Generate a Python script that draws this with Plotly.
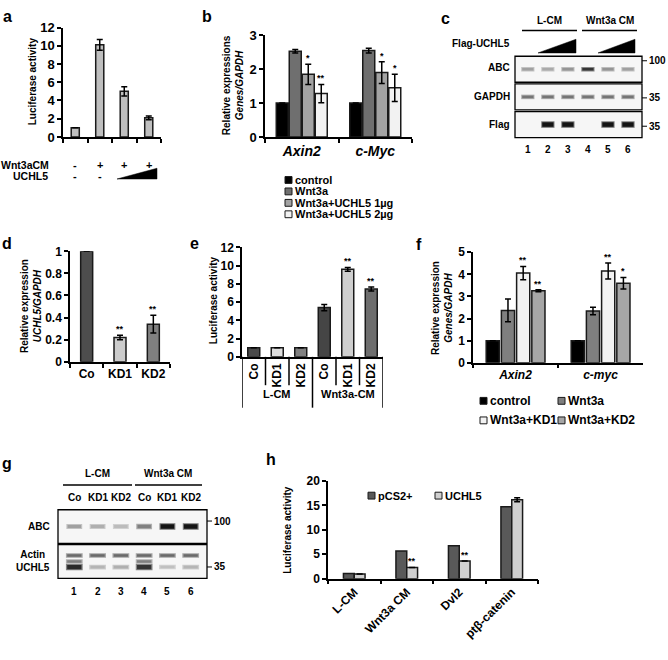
import plotly.graph_objects as go

W, H = 668, 660
FONT = "Liberation Sans, Arial, sans-serif"


def PX(x):
    return x / W


def PY(y):
    return 1 - y / H


# ------------------------------------------------------------------ data
# panel a
a_conditions = ["Control", "Wnt3aCM", "Wnt3aCM+UCHL5 low", "Wnt3aCM+UCHL5 high"]
a_luciferase = [1.0, 10.1, 5.0, 2.1]
a_error = [None, 0.6, 0.5, 0.2]
a_wnt3a_row = ["-", "+", "+", "+"]
a_uchl5_row = ["-", "-", "", ""]
a_yticks = [0, 2, 4, 6, 8, 10, 12]

# panel b
b_genes = ["Axin2", "c-Myc"]
b_series = ["control", "Wnt3a", "Wnt3a+UCHL5 1µg", "Wnt3a+UCHL5 2µg"]
b_control = [1.0, 1.0]
b_wnt3a = [2.53, 2.55]
b_uchl5_1ug = [1.85, 1.9]
b_uchl5_2ug = [1.28, 1.45]
b_err_control = [None, None]
b_err_wnt3a = [0.05, 0.07]
b_err_1ug = [0.3, 0.32]
b_err_2ug = [0.27, 0.4]
b_stars = [["", ""], ["", ""], ["*", "*"], ["**", "*"]]
b_yticks = [0, 1, 2, 3]

# panel c (western blot band intensities, 0..1)
c_lanes = [1, 2, 3, 4, 5, 6]
c_groups = ["L-CM", "Wnt3a CM"]
c_rows = ["ABC", "GAPDH", "Flag"]
c_mw = ["100", "35", "35"]
c_abc = [0.35, 0.3, 0.4, 0.85, 0.4, 0.35]
c_gapdh = [0.55, 0.55, 0.55, 0.55, 0.55, 0.55]
c_flag = [0.0, 1.0, 1.0, 0.0, 1.0, 1.0]

# panel d
d_cats = ["Co", "KD1", "KD2"]
d_values = [1.0, 0.22, 0.34]
d_error = [None, 0.02, 0.08]
d_stars = ["", "**", "**"]
d_yticks = [0, 0.2, 0.4, 0.6, 0.8, 1]
d_yticktext = ["0", "0.2", "0.4", "0.6", "0.8", "1"]

# panel e
e_labels = ["Co", "KD1", "KD2", "Co", "KD1", "KD2"]
e_groups = ["L-CM", "Wnt3a-CM"]
e_values = [1.0, 1.0, 1.0, 5.4, 9.6, 7.45]
e_error = [None, None, None, 0.35, 0.2, 0.22]
e_stars = ["", "", "", "", "**", "**"]
e_yticks = [0, 2, 4, 6, 8, 10, 12]

# panel f
f_genes = ["Axin2", "c-myc"]
f_series = ["control", "Wnt3a", "Wnt3a+KD1", "Wnt3a+KD2"]
f_control = [1.0, 1.0]
f_wnt3a = [2.37, 2.34]
f_kd1 = [4.06, 4.15]
f_kd2 = [3.26, 3.6]
f_err_control = [None, None]
f_err_wnt3a = [0.52, 0.17]
f_err_kd1 = [0.3, 0.36]
f_err_kd2 = [0.05, 0.26]
f_stars = [["", ""], ["", ""], ["**", "**"], ["**", "*"]]
f_yticks = [0, 1, 2, 3, 4, 5]

# panel g (western blot band intensities)
g_lane_labels = ["Co", "KD1", "KD2", "Co", "KD1", "KD2"]
g_groups = ["L-CM", "Wnt3a CM"]
g_abc = [0.35, 0.28, 0.22, 0.5, 1.0, 1.0]
g_actin = [0.6, 0.6, 0.6, 0.6, 0.6, 0.6]
g_mid = [0.5, 0.0, 0.0, 0.5, 0.0, 0.0]
g_uchl5 = [0.9, 0.25, 0.28, 0.85, 0.2, 0.25]

# panel h
h_cats = ["L-CM", "Wnt3a CM", "Dvl2", "ptβ-catenin"]
h_series = ["pCS2+", "UCHL5"]
h_pcs2 = [1.05, 5.65, 6.75, 14.75]
h_uchl5 = [0.95, 2.3, 3.6, 16.15]
h_err_uchl5 = [None, None, None, 0.4]
h_stars = ["", "**", "**", ""]
h_yticks = [0, 5, 10, 15, 20]

# ------------------------------------------------------------------ styles
OUT = "#1a1a1a"
a_color = "#bfbfbf"
b_colors = ["#000000", "#6f6f6f", "#a3a3a3", "#f2f2f2"]
d_colors = ["#4d4d4d", "#cccccc", "#808080"]
e_colors = ["#4a4a4a", "#dedede", "#808080", "#454545", "#cfcfcf", "#6e6e6e"]
f_colors = ["#000000", "#7f7f7f", "#f2f2f2", "#a6a6a6"]
h_colors = ["#595959", "#d0d0d0"]

fig = go.Figure()
annotations = []
shapes = []


def A(text, x, y, size=11, xanchor="center", yanchor="middle", xref="paper",
      yref="paper", angle=0, italic=False):
    return dict(text=text, x=PX(x) if xref == "paper" else x,
                y=PY(y) if yref == "paper" else y, xref=xref, yref=yref,
                showarrow=False, textangle=angle, xanchor=xanchor,
                yanchor=yanchor,
                font=dict(size=size, family=FONT, color="black", weight="bold",
                          style="italic" if italic else "normal"))


def bar(x, y, err, color, xa, ya, width, offset=None):
    kw = {}
    if err is not None:
        kw["error_y"] = dict(type="data", array=err, visible=True,
                             color="black", thickness=1.5, width=3)
    return go.Bar(x=x, y=y, width=width, offset=offset, xaxis=xa, yaxis=ya,
                  marker=dict(color=color, line=dict(color=OUT, width=1.5)),
                  showlegend=False, hoverinfo="skip", **kw)


def star_ann(text, x, y, xa, ya, size=9):
    d = A(text, x, y, size=size, yanchor="bottom", xref=xa, yref=ya)
    d["yshift"] = -1
    return d


def legend_item(xs, y, color, text, size=11):
    shapes.append(dict(type="rect", xref="paper", yref="paper",
                       x0=PX(xs), x1=PX(xs + 7), y0=PY(y + 3.5), y1=PY(y - 3.5),
                       fillcolor=color, line=dict(color=OUT, width=1)))
    annotations.append(A(text, xs + 7.5, y, size=size, xanchor="left"))


def gray(v):
    g = int(round(235 - 215 * v))
    return f"rgb({g},{g},{g})"


def band(lane, row, v, xa, ya, half=0.34, thick=3.0):
    if v <= 0:
        return
    fig.add_trace(go.Scatter(x=[lane - half, lane + half], y=[row, row],
                             mode="lines", xaxis=xa, yaxis=ya,
                             line=dict(color=gray(v * 0.55), width=thick + 2),
                             showlegend=False, hoverinfo="skip"))
    fig.add_trace(go.Scatter(x=[lane - half * 0.85, lane + half * 0.85], y=[row, row],
                             mode="lines", xaxis=xa, yaxis=ya,
                             line=dict(color=gray(v), width=thick),
                             showlegend=False, hoverinfo="skip"))


# ------------------------------------------------------------------ panel a
fig.add_trace(bar(a_conditions, a_luciferase, a_error, a_color, "x", "y", 0.33))
for i, s in enumerate(a_wnt3a_row):
    annotations.append(A(s, i, 162, size=11, xref="x"))
for i, s in enumerate(a_uchl5_row):
    if s:
        annotations.append(A(s, i, 173, size=11, xref="x"))
annotations.append(A("Wnt3aCM", -1, 162, size=10.5, xanchor="left"))
annotations.append(A("UCHL5", 11, 173, size=10.5, xanchor="left"))
shapes.append(dict(type="path", xref="paper", yref="paper", fillcolor="black",
                   line=dict(color="black", width=0.5),
                   path=f"M {PX(117)},{PY(176)} L {PX(157)},{PY(176)} L {PX(157)},{PY(165)} Z"))
annotations.append(A("Luciferase activity", 32, 76, size=10, angle=-90))

# ------------------------------------------------------------------ panel b
b_vals = [b_control, b_wnt3a, b_uchl5_1ug, b_uchl5_2ug]
b_errs = [b_err_control, b_err_wnt3a, b_err_1ug, b_err_2ug]
b_w, b_step, b_off0 = 0.163, 0.177, -0.347
for k in range(len(b_series)):
    off = b_off0 + b_step * k
    tr = bar(b_genes, b_vals[k], b_errs[k], b_colors[k], "x2", "y2", b_w, off)
    tr.name = b_series[k]
    fig.add_trace(tr)
    for gi in range(len(b_genes)):
        if b_stars[k][gi]:
            annotations.append(star_ann(b_stars[k][gi], gi + off + b_w / 2,
                                        b_vals[k][gi] + (b_errs[k][gi] or 0), "x2", "y2"))
annotations.append(A("Relative expressions<br><i>Genes/GAPDH</i>", 233, 80,
                     size=10, angle=-90))
for k, name in enumerate(b_series):
    legend_item(285, 177 + 11.7 * k, b_colors[k], name, size=11)

# ------------------------------------------------------------------ panel c (blot)
c_intens = [c_abc, c_gapdh, c_flag]
c_thick = [2.5, 2.5, 4.5]
for r, vals in enumerate(c_intens):
    shapes.append(dict(type="rect", xref="x7 domain", yref="y7", x0=0, x1=1,
                       y0=r - 0.47, y1=r + 0.47, layer="below",
                       fillcolor="#f6f6f6", line=dict(color="black", width=1.3)))
    for lane, v in zip(c_lanes, vals):
        band(lane, r, v, "x7", "y7", half=0.33, thick=c_thick[r])
    annotations.append(A(c_rows[r], 512, [62, 92, 120][r], size=10, xanchor="right"))
    ymw = [55, 93, 122][r]
    shapes.append(dict(type="line", xref="paper", yref="paper", x0=PX(642), x1=PX(647),
                       y0=PY(ymw), y1=PY(ymw), line=dict(color="black", width=1)))
    annotations.append(A(c_mw[r], 647, ymw, size=10, xanchor="left"))
for lane in c_lanes:
    annotations.append(A(str(lane), lane, 146, size=10, xref="x7"))
for gi, (gname, x0, x1) in enumerate(zip(c_groups, [522, 582], [577, 637])):
    shapes.append(dict(type="line", xref="paper", yref="paper", x0=PX(x0), x1=PX(x1),
                       y0=PY(24), y1=PY(24), line=dict(color="black", width=1.5)))
    annotations.append(A(gname, (x0 + x1) / 2, 14, size=10))
    wx0, wx1 = [538, 598][gi], [576, 635][gi]
    shapes.append(dict(type="path", xref="paper", yref="paper", fillcolor="black",
                       line=dict(color="black", width=0.5),
                       path=f"M {PX(wx0)},{PY(47)} L {PX(wx1)},{PY(47)} L {PX(wx1)},{PY(33)} Z"))
annotations.append(A("Flag-UCHL5", 512, 37, size=10, xanchor="right"))

# ------------------------------------------------------------------ panel d
fig.add_trace(bar(d_cats, d_values, d_error, d_colors, "x3", "y3", 0.36))
for i, s in enumerate(d_stars):
    if s:
        annotations.append(star_ann(s, i, d_values[i] + (d_error[i] or 0), "x3", "y3"))
annotations.append(A("Relative expression<br><i>UCHL5/GAPDH</i>", 31, 306,
                     size=10, angle=-90))

# ------------------------------------------------------------------ panel e
e_pos = list(range(len(e_values)))
fig.add_trace(bar(e_pos, e_values, e_error, e_colors, "x4", "y4", 0.51))
for i, s in enumerate(e_stars):
    if s:
        annotations.append(star_ann(s, i, e_values[i] + (e_error[i] or 0), "x4", "y4"))
gsize = len(e_values) // len(e_groups)
for i in range(len(e_values) + 1):
    b = i - 0.5
    long_line = (i % gsize == 0)
    shapes.append(dict(type="line", xref="x4", yref="paper", x0=b, x1=b,
                       y0=PY(358), y1=PY(410 if long_line else 387),
                       line=dict(color="black", width=1.5)))
for gi, gname in enumerate(e_groups):
    annotations.append(A(gname, gi * gsize + (gsize - 1) / 2, 396, size=11, xref="x4"))
annotations.append(A("Luciferase activity", 213, 300, size=10, angle=-90))

# ------------------------------------------------------------------ panel f
f_vals = [f_control, f_wnt3a, f_kd1, f_kd2]
f_errs = [f_err_control, f_err_wnt3a, f_err_kd1, f_err_kd2]
f_w, f_step, f_off0 = 0.155, 0.179, -0.345
for k in range(len(f_series)):
    off = f_off0 + f_step * k
    tr = bar(f_genes, f_vals[k], f_errs[k], f_colors[k], "x5", "y5", f_w, off)
    tr.name = f_series[k]
    fig.add_trace(tr)
    for gi in range(len(f_genes)):
        if f_stars[k][gi]:
            annotations.append(star_ann(f_stars[k][gi], gi + off + f_w / 2,
                                        f_vals[k][gi] + (f_errs[k][gi] or 0), "x5", "y5"))
annotations.append(A("Relative expression<br><i>Genes/GAPDH</i>", 442, 308,
                     size=10, angle=-90))
f_leg_pos = [(480, 403), (558, 403), (480, 423), (558, 423)]
for k, name in enumerate(f_series):
    legend_item(f_leg_pos[k][0], f_leg_pos[k][1], f_colors[k], name, size=12)

# ------------------------------------------------------------------ panel g (blot)
g_box_rows = [0, 1]
for r in g_box_rows:
    shapes.append(dict(type="rect", xref="x8 domain", yref="y8", x0=0, x1=1,
                       y0=r - 0.48, y1=r + 0.48, layer="below",
                       fillcolor="#f6f6f6", line=dict(color="black", width=1.3)))
for lane, v in zip(c_lanes, g_abc):
    band(lane, 0, v, "x8", "y8", half=0.34, thick=2.5 + 2 * v)
for lane, v in zip(c_lanes, g_actin):
    band(lane, 1 - 0.17, v, "x8", "y8", half=0.36, thick=2.5)
for lane, v in zip(c_lanes, g_mid):
    band(lane, 1.0, v, "x8", "y8", half=0.36, thick=2.5)
for lane, v in zip(c_lanes, g_uchl5):
    band(lane, 1 + 0.16, v, "x8", "y8", half=0.36, thick=2 + 2.5 * v)
for lane, lab in zip(c_lanes, g_lane_labels):
    annotations.append(A(lab, lane, 502, size=10, xref="x8"))
    annotations.append(A(str(lane), lane, 598, size=10, xref="x8"))
for gname, x0, x1 in zip(g_groups, [63, 135], [132, 202]):
    shapes.append(dict(type="line", xref="paper", yref="paper", x0=PX(x0), x1=PX(x1),
                       y0=PY(489), y1=PY(489), line=dict(color="black", width=1.5)))
    annotations.append(A(gname, (x0 + x1) / 2, 477, size=10))
annotations.append(A("ABC", 52, 532, size=10, xanchor="right"))
annotations.append(A("Actin<br>UCHL5", 52, 567, size=10, xanchor="right"))
for txt, ymw in [("100", 526), ("35", 573)]:
    shapes.append(dict(type="line", xref="paper", yref="paper", x0=PX(207), x1=PX(212),
                       y0=PY(ymw), y1=PY(ymw), line=dict(color="black", width=1)))
    annotations.append(A(txt, 212, ymw, size=10, xanchor="left"))

# ------------------------------------------------------------------ panel h
h_w = 0.206
fig.add_trace(bar(h_cats, h_pcs2, None, h_colors[0], "x6", "y6", h_w, -h_w))
fig.add_trace(bar(h_cats, h_uchl5, h_err_uchl5, h_colors[1], "x6", "y6", h_w, 0))
for i, s in enumerate(h_stars):
    if s:
        annotations.append(star_ann(s, i + h_w / 2, h_uchl5[i] + (h_err_uchl5[i] or 0),
                                    "x6", "y6"))
annotations.append(A("Luciferase activity", 288, 535, size=10, angle=-90))
legend_item(368, 500, h_colors[0], h_series[0], size=11)
legend_item(435, 500, h_colors[1], h_series[1], size=11)

# ------------------------------------------------------------------ panel letters
for letter, x, y in [("a", 7, 10), ("b", 207, 10), ("c", 445, 12), ("d", 7, 242),
                     ("e", 194, 242), ("f", 419, 243), ("g", 7, 467), ("h", 271, 463)]:
    annotations.append(A(letter, x, y, size=16))


# ------------------------------------------------------------------ axes
def xax(x0, x1, anchor, **kw):
    d = dict(domain=[PX(x0), PX(x1)], anchor=anchor, showgrid=False, zeroline=False,
             showline=True, linecolor="black", linewidth=1.5, ticks="outside",
             ticklen=4, tickwidth=1.5, tickcolor="black", fixedrange=True,
             tickfont=dict(size=12, family=FONT, color="black", weight="bold"))
    d.update(kw)
    return d


def yax(y0, y1, anchor, **kw):
    d = dict(domain=[PY(y1), PY(y0)], anchor=anchor, showgrid=False, zeroline=False,
             showline=True, linecolor="black", linewidth=1.5, ticks="outside",
             ticklen=4, tickwidth=1.5, tickcolor="black", fixedrange=True,
             tickfont=dict(size=12, family=FONT, color="black", weight="bold"))
    d.update(kw)
    return d


def hidden(x0, x1, anchor, rng, vertical=False):
    if vertical:
        dom = [PY(x1), PY(x0)]
    else:
        dom = [PX(x0), PX(x1)]
    return dict(domain=dom, anchor=anchor, range=rng, visible=False, fixedrange=True)


fig.update_layout(
    width=W, height=H, margin=dict(l=0, r=0, t=0, b=0),
    paper_bgcolor="white", plot_bgcolor="rgba(0,0,0,0)",
    showlegend=False, barmode="overlay",
    font=dict(family=FONT, color="black", size=11, weight="bold"),
    xaxis=xax(63, 161, "y", type="category", tickson="boundaries", showticklabels=False),
    yaxis=yax(21, 133, "x", range=[0, 12], tickvals=a_yticks,
              tickfont=dict(size=13, family=FONT, color="black", weight="bold")),
    xaxis2=xax(265, 412, "y2", type="category", tickson="boundaries", tickangle=0,
               tickfont=dict(size=14, family=FONT, color="black", weight="bold",
                             style="italic")),
    yaxis2=yax(29, 133, "x2", range=[0, 3], tickvals=b_yticks,
               tickfont=dict(size=13, family=FONT, color="black", weight="bold")),
    xaxis3=xax(70, 170, "y3", type="category", tickson="boundaries", tickangle=0),
    yaxis3=yax(250, 363, "x3", range=[0, 1], tickvals=d_yticks, ticktext=d_yticktext),
    xaxis4=xax(242, 383, "y4", range=[-0.5, 5.5], tickvals=e_pos, ticktext=e_labels,
               ticks="", tickangle=-90),
    yaxis4=yax(246, 358, "x4", range=[0, 12], tickvals=e_yticks),
    xaxis5=xax(473, 643, "y5", type="category", tickson="boundaries", tickangle=0,
               tickfont=dict(size=12, family=FONT, color="black", weight="bold",
                             style="italic")),
    yaxis5=yax(251, 364, "x5", range=[0, 5], tickvals=f_yticks),
    xaxis6=xax(328, 538, "y6", type="category", tickson="boundaries", tickangle=-45),
    yaxis6=yax(485, 585, "x6", range=[0, 20], tickvals=h_yticks),
    xaxis7=hidden(515, 642, "y7", [0.36, 6.7]),
    yaxis7=hidden(49, 135, "x7", [2.52, -0.52], vertical=True),
    xaxis8=hidden(58, 207, "y8", [0.3, 6.7]),
    yaxis8=hidden(513, 586, "x8", [1.52, -0.52], vertical=True),
    annotations=annotations,
    shapes=shapes,
)

fig.write_html("out.html", config={"displayModeBar": False},
               post_script="document.body.style.margin='0';document.body.style.overflow='hidden';")
